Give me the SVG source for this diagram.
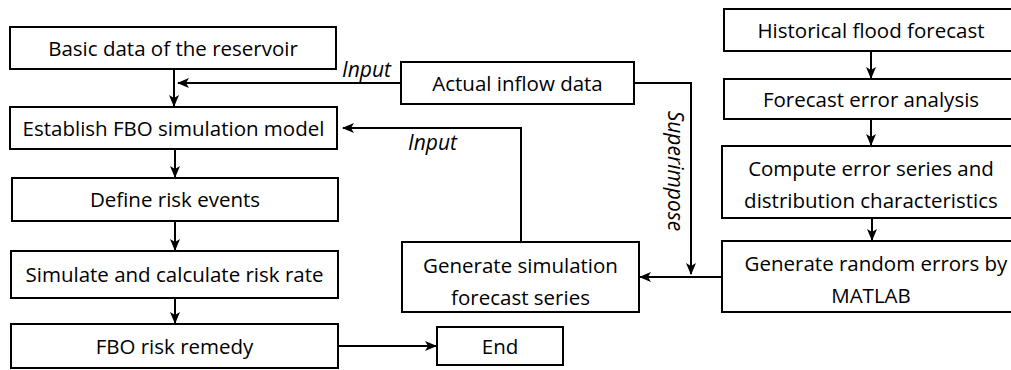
<svg xmlns="http://www.w3.org/2000/svg" width="1011" height="370" viewBox="0 0 1011 370">
<defs>
<marker id="arr" viewBox="0 0 12 10" refX="11" refY="5" markerWidth="12" markerHeight="10" markerUnits="userSpaceOnUse" orient="auto">
<path d="M0,0 L12,5 L0,10 L3,5 z" fill="#000"/>
</marker>
<style>
.box{fill:#fff;stroke:#000;stroke-width:2}
.t{font-family:"Open Sans",sans-serif;font-size:20.5px;fill:#000;text-anchor:middle}
.lbl{font-family:"Open Sans",sans-serif;font-size:21px;font-style:italic;fill:#000}
.c{fill:none;stroke:#000;stroke-width:2}
</style>
</defs>
<g id="n-basic"><rect class="box" x="10" y="27" width="326" height="42"/><text class="t" x="173" y="55.5">Basic data of the reservoir</text></g>
<g id="n-establish"><rect class="box" x="10" y="107" width="327" height="42"/><text class="t" x="173.5" y="135.5">Establish FBO simulation model</text></g>
<g id="n-define"><rect class="box" x="12" y="178" width="326" height="43"/><text class="t" x="175" y="207">Define risk events</text></g>
<g id="n-simulate"><rect class="box" x="11" y="251" width="327" height="47"/><text class="t" x="174.5" y="282">Simulate and calculate risk rate</text></g>
<g id="n-remedy"><rect class="box" x="11" y="324" width="327" height="44"/><text class="t" x="174.5" y="353.5">FBO risk remedy</text></g>
<g id="n-end"><rect class="box" x="437" y="327" width="126" height="38"/><text class="t" x="500" y="353.5">End</text></g>
<g id="n-actual"><rect class="box" x="401" y="62" width="233" height="42"/><text class="t" x="517.5" y="90.5">Actual inflow data</text></g>
<g id="n-gensim"><rect class="box" x="402" y="242" width="237" height="70"/><text class="t" x="520.5" y="272.5">Generate simulation</text><text class="t" x="520.5" y="304.5">forecast series</text></g>
<g id="n-hist"><rect class="box" x="724" y="9" width="295" height="42"/><text class="t" x="871" y="37.5">Historical flood forecast</text></g>
<g id="n-fea"><rect class="box" x="724" y="79" width="295" height="40"/><text class="t" x="871" y="106.5">Forecast error analysis</text></g>
<g id="n-compute"><rect class="box" x="722" y="146" width="297" height="72"/><text class="t" x="871" y="175.5">Compute error series and</text><text class="t" x="871" y="207.5">distribution characteristics</text></g>
<g id="n-random"><rect class="box" x="722" y="241" width="297" height="71"/><text class="t" x="876" y="270.5">Generate random errors by</text><text class="t" x="871" y="302.5">MATLAB</text></g>
<g id="connectors">
<line class="c" x1="174" y1="69" x2="174" y2="106" marker-end="url(#arr)"/>
<line class="c" x1="175" y1="149" x2="175" y2="177" marker-end="url(#arr)"/>
<line class="c" x1="175" y1="221" x2="175" y2="250" marker-end="url(#arr)"/>
<line class="c" x1="175" y1="298" x2="175" y2="323" marker-end="url(#arr)"/>
<line class="c" x1="338" y1="346" x2="436" y2="346" marker-end="url(#arr)"/>
<line class="c" x1="401" y1="83" x2="178" y2="83" marker-end="url(#arr)"/>
<polyline class="c" points="521,242 521,128 343,128" marker-end="url(#arr)"/>
<polyline class="c" points="634,83 691,83 691,274" marker-end="url(#arr)"/>
<line class="c" x1="722" y1="277" x2="640" y2="277" marker-end="url(#arr)"/>
<line class="c" x1="871" y1="51" x2="871" y2="78" marker-end="url(#arr)"/>
<line class="c" x1="871" y1="119" x2="871" y2="145" marker-end="url(#arr)"/>
<line class="c" x1="872" y1="218" x2="872" y2="240" marker-end="url(#arr)"/>
<text class="lbl" x="342" y="77">Input</text>
<text class="lbl" x="408" y="150">Input</text>
<text class="lbl" transform="translate(668,171) rotate(90)" text-anchor="middle">Superimpose</text>
</g>
</svg>
